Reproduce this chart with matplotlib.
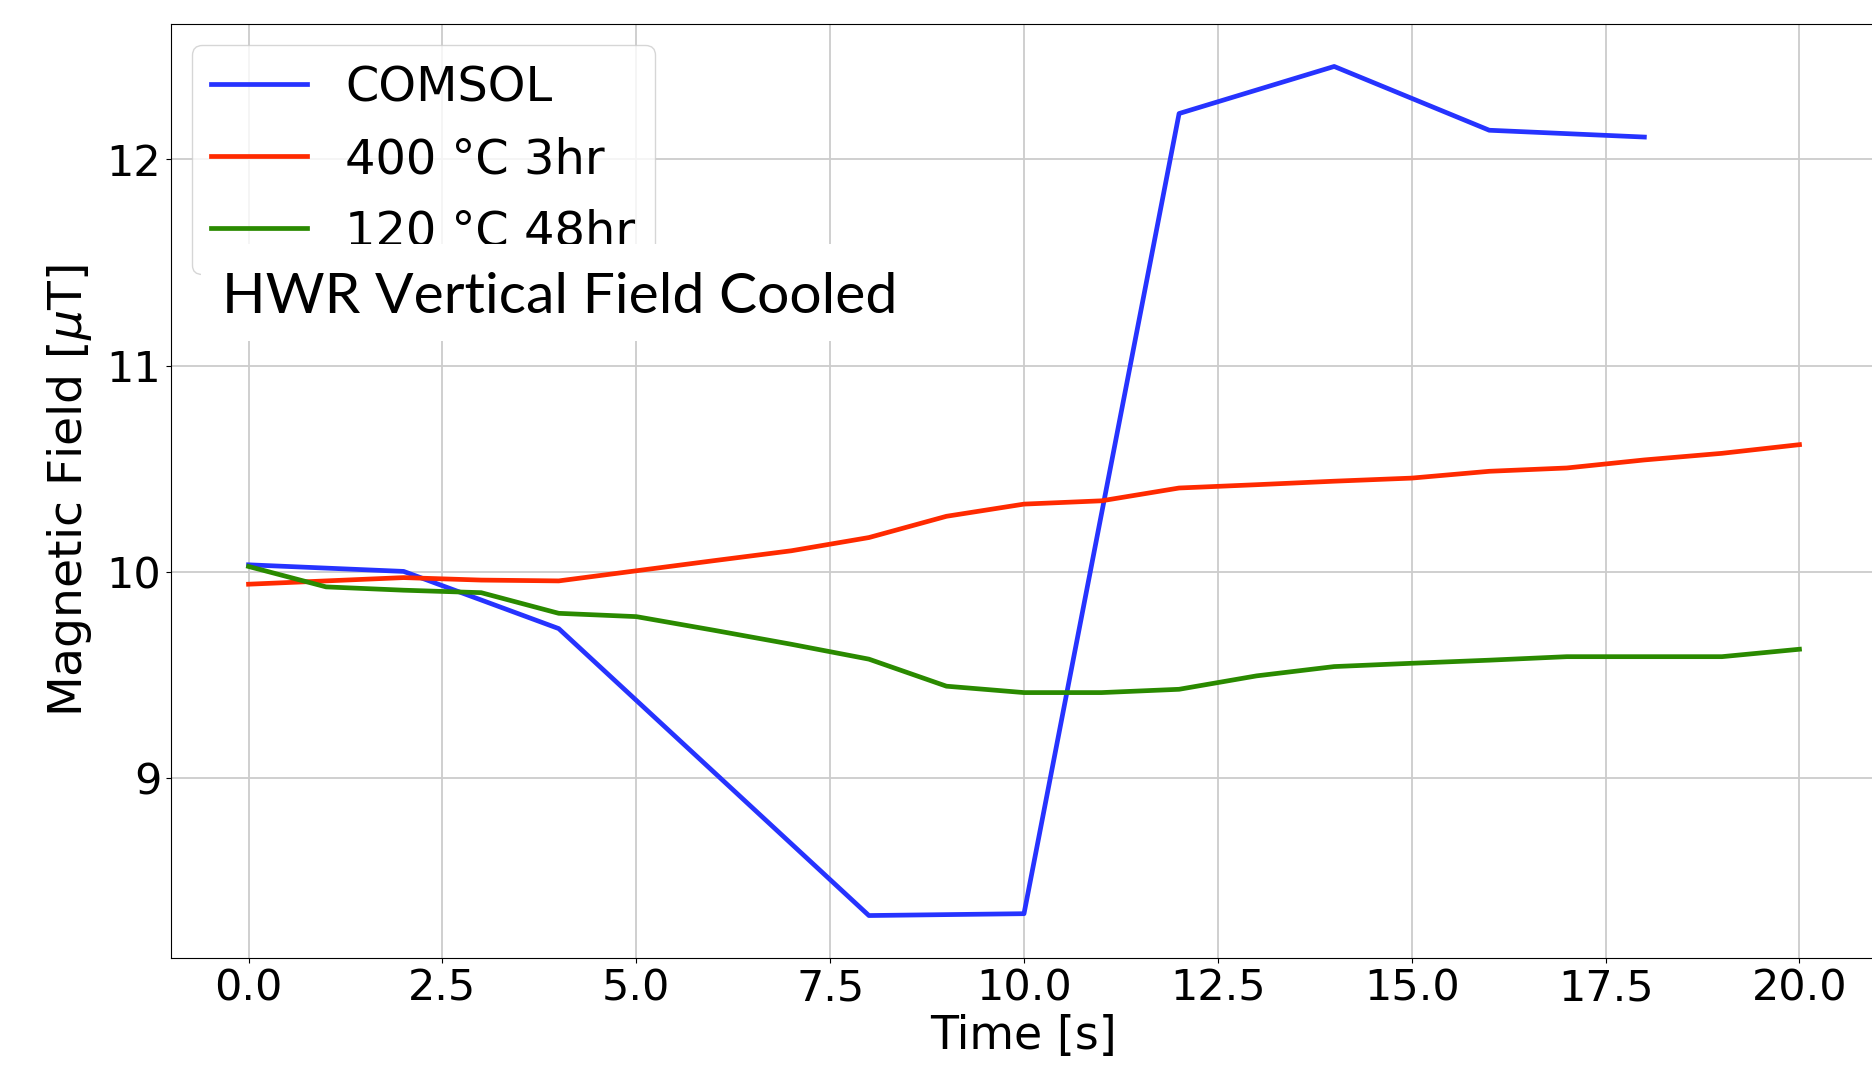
import matplotlib
matplotlib.use("Agg")
import matplotlib.pyplot as plt
from matplotlib.patches import Rectangle

# ---- data ----
t_comsol = [0, 2, 4, 8, 10, 12, 14, 16, 18]
b_comsol = [10.035, 10.003, 9.726, 8.336, 8.345, 12.221, 12.449, 12.14, 12.107]

t_meas = list(range(0, 21))
b_400 = [9.941, 9.957, 9.973, 9.961, 9.957, 10.006, 10.055, 10.103, 10.167, 10.27,
         10.329, 10.345, 10.407, 10.423, 10.44, 10.455, 10.488, 10.504, 10.543, 10.575, 10.617]
b_120 = [10.027, 9.928, 9.912, 9.90, 9.80, 9.784, 9.718, 9.65, 9.578, 9.447,
         9.416, 9.416, 9.432, 9.497, 9.542, 9.558, 9.573, 9.590, 9.590, 9.590, 9.626]

labels = ["COMSOL", "400 °C 3hr", "120 °C 48hr"]
colors = ["#2633ff", "#ff2a00", "#2a8a00"]
title_text = "HWR Vertical Field Cooled"

# ---- figure ----
W, H = 1872, 1065
fig = plt.figure(figsize=(W / 100, H / 100), dpi=100)
ax = fig.add_axes([171 / W, 1 - 958 / H, (1877 - 171) / W, (958 - 24) / H])

ax.plot(t_comsol, b_comsol, color=colors[0], lw=3.4, label=labels[0])
ax.plot(t_meas, b_400, color=colors[1], lw=3.4, label=labels[1])
ax.plot(t_meas, b_120, color=colors[2], lw=3.4, label=labels[2])

ax.set_xlim(-1, 21)
ax.set_xticks([0, 2.5, 5, 7.5, 10, 12.5, 15, 17.5, 20])
ax.set_yticks([9, 10, 11, 12])
ax.grid(True, color="#cccccc", lw=1.3)
ax.set_axisbelow(True)
ax.tick_params(labelsize=31)
ax.set_xlabel("Time [s]", fontsize=33, labelpad=3)
ax.set_ylabel(r"Magnetic Field [$\mu$T]", fontsize=34, labelpad=9)

ax.legend(loc="upper left", fontsize=34.5, labelspacing=0.52, borderaxespad=0.44)

# white box with overlaid annotation
fig.add_artist(Rectangle((201 / W, 1 - 341 / H), (900 - 201) / W, (341 - 244) / H,
                         transform=fig.transFigure, facecolor="white",
                         edgecolor="none", zorder=10))
fig.text(222 / W, 1 - 313 / H, title_text, fontsize=41, family="Lato",
         va="baseline", ha="left", zorder=11)

fig.savefig("out.png", dpi=100)
